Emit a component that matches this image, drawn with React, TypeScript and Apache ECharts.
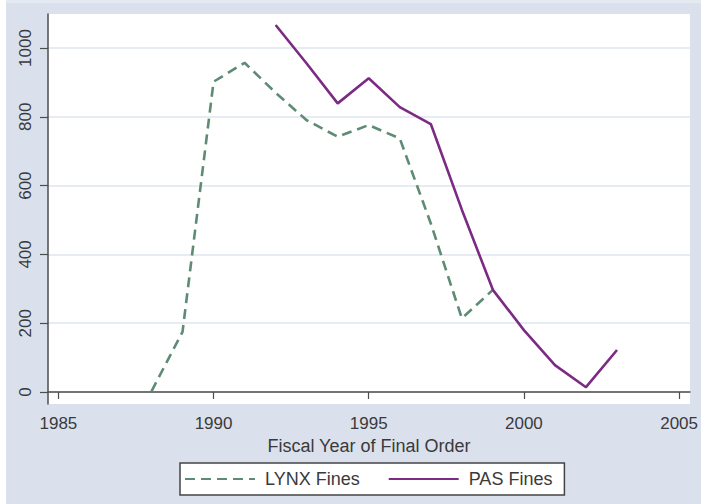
import React, { useEffect, useRef } from "react";
import * as echarts from "echarts";

const lynxYears = [1988, 1989, 1990, 1991, 1992, 1993, 1994, 1995, 1996, 1997, 1998, 1999];
const lynxFines = [2, 175, 902, 957, 870, 790, 742, 776, 737, 490, 214, 297];
const pasYears = [1992, 1993, 1994, 1995, 1996, 1997, 1998, 1999, 2000, 2001, 2002, 2003];
const pasFines = [1067, 955, 839, 912, 828, 779, 530, 297, 180, 78, 14, 122];
const xTicks = [1985, 1990, 1995, 2000, 2005];
const yTicks = [0, 200, 400, 600, 800, 1000];
const xTitle = "Fiscal Year of Final Order";
const seriesNames = ["LYNX Fines", "PAS Fines"];

const FONT = "'Liberation Sans', Arial, Helvetica, sans-serif";
const AXIS_COLOR = "#4d4d4d";
const TEXT_COLOR = "#3a3a3a";

export default function App() {
  const ref = useRef<HTMLDivElement>(null);
  useEffect(() => {
    if (!ref.current) return;
    const chart = echarts.init(ref.current, undefined, { renderer: "svg" });
    const pair = (xs: number[], ys: number[]) => xs.map((x, i) => [x, ys[i]]);
    chart.setOption({
      animation: false,
      backgroundColor: "#dae1ed",
      textStyle: { fontFamily: FONT },
      graphic: [
        { type: "rect", left: 0, top: 0, shape: { width: 6, height: 504 }, style: { fill: "#ffffff" }, z: -10 },
        { type: "rect", left: 6, top: 0, shape: { width: 695, height: 3 }, style: { fill: "#e4e9f2" }, z: -10 },
      ],
      grid: {
        left: 48,
        right: 4,
        top: 14,
        bottom: 100,
        show: true,
        backgroundColor: "#ffffff",
        borderWidth: 0,
      },
      xAxis: {
        type: "value",
        min: 1984.6653,
        max: 2005.3505,
        name: xTitle,
        nameLocation: "middle",
        nameGap: 31,
        nameTextStyle: { fontSize: 18, color: TEXT_COLOR, fontFamily: FONT },
        axisLine: { show: true, lineStyle: { color: AXIS_COLOR, width: 1.5 } },
        axisTick: { show: true, length: 7, customValues: xTicks, lineStyle: { color: AXIS_COLOR, width: 1.2 } },
        axisLabel: {
          customValues: xTicks,
          fontSize: 17,
          color: TEXT_COLOR,
          margin: 11,
          fontFamily: FONT,
          formatter: (v: number) => String(v),
        },
        splitLine: { show: false },
      },
      yAxis: {
        type: "value",
        min: -34.88,
        max: 1098.84,
        axisLine: { show: true, lineStyle: { color: AXIS_COLOR, width: 1.5 } },
        axisTick: { show: true, length: 8, customValues: yTicks, lineStyle: { color: AXIS_COLOR, width: 1.2 } },
        axisLabel: {
          customValues: yTicks,
          rotate: 90,
          fontSize: 17,
          color: TEXT_COLOR,
          margin: 14,
          fontFamily: FONT,
          formatter: (v: number) => String(v),
        },
        splitLine: { show: true, lineStyle: { color: "#dfe5f0", width: 1.5 } },
      },
      legend: {
        left: 180,
        top: 463,
        orient: "horizontal",
        itemWidth: 70,
        itemHeight: 16,
        itemGap: 28,
        padding: [7, 12, 7, 4],
        backgroundColor: "#ffffff",
        borderColor: "#444444",
        borderWidth: 1.5,
        itemStyle: { opacity: 0 },
        textStyle: { fontSize: 18, color: TEXT_COLOR, fontFamily: FONT, padding: [0, 0, 0, 5] },
        data: seriesNames,
      },
      series: [
        {
          name: seriesNames[0],
          type: "line",
          data: pair(lynxYears, lynxFines),
          symbol: "none",
          itemStyle: { color: "#5e8b74" },
          lineStyle: { color: "#5e8b74", width: 2.6, type: [10, 6] },
        },
        {
          name: seriesNames[1],
          type: "line",
          data: pair(pasYears, pasFines),
          symbol: "none",
          itemStyle: { color: "#7c2b85" },
          lineStyle: { color: "#7c2b85", width: 2.6, type: "solid" },
        },
      ],
    });
    return () => chart.dispose();
  }, []);
  return (
    <div
      ref={ref}
      style={{ position: "fixed", left: 0, top: 0, width: 701, height: 504 }}
    />
  );
}
